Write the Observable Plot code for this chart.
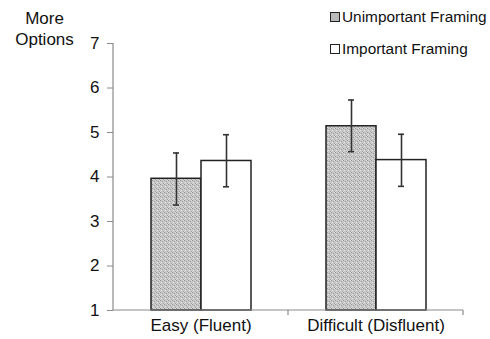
<!DOCTYPE html>
<html>
<head>
<meta charset="utf-8">
<script src="https://cdn.jsdelivr.net/npm/d3@7"></script>
<script src="https://cdn.jsdelivr.net/npm/@observablehq/plot@0.6"></script>
<style>
  html, body { margin: 0; padding: 0; background: #fff; }
  #wrap { position: relative; width: 490px; height: 339px; font-family: "Liberation Sans", Arial, sans-serif; color: #111; }
  #wrap svg { position: absolute; left: 0; top: 0; }
  .ylab { position: absolute; left: 0; top: 8px; width: 89px; text-align: center; font-size: 17px; line-height: 21px; }
  .leg { position: absolute; left: 330px; font-size: 15.4px; display: flex; align-items: center; white-space: nowrap; }
  .sw { width: 8px; height: 8px; border: 1.5px solid #222; margin-right: 2px; box-sizing: content-box; }
</style>
</head>
<body>
<div id="wrap">
  <div class="ylab">More<br>Options</div>
  <div class="leg" style="top:8px"><span class="sw" style="background:#b9b9b9"></span>Unimportant Framing</div>
  <div class="leg" style="top:40px"><span class="sw" style="background:#fff"></span>Important Framing</div>
</div>
<script>
const categories = ["Easy (Fluent)", "Difficult (Disfluent)"];
const series = ["Unimportant Framing", "Important Framing"];
const unimportantMean = [3.96, 5.14];
const unimportantLo = [3.37, 4.57];
const unimportantHi = [4.54, 5.73];
const importantMean = [4.36, 4.38];
const importantLo = [3.78, 3.79];
const importantHi = [4.95, 4.96];
const yTicks = [1, 2, 3, 4, 5, 6, 7];
const baseline = 1;

const data = [];
categories.forEach((c, i) => {
  data.push({category: c, series: series[0], mean: unimportantMean[i], lo: unimportantLo[i], hi: unimportantHi[i]});
  data.push({category: c, series: series[1], mean: importantMean[i], lo: importantLo[i], hi: importantHi[i]});
});

const fills = {[series[0]]: "url(#stipple)", [series[1]]: "#ffffff"};

const plot = Plot.plot({
  width: 490,
  height: 339,
  marginLeft: 113,
  marginRight: 27,
  marginTop: 43,
  marginBottom: 29,
  style: {fontFamily: "Liberation Sans, Arial, sans-serif", fontSize: "17px", color: "#111", background: "#fff"},
  fx: {domain: categories, padding: 0, label: null},
  x: {domain: series, paddingInner: 0, paddingOuter: 0.733, axis: null},
  y: {domain: [1, 7], label: null},
  marks: [
    Plot.axisY({ticks: yTicks, tickFormat: d3.format("d"), tickSize: 6, tickPadding: 8, label: null, stroke: "#8a8a8a", fill: "#111", fontSize: 17}),
    Plot.axisFx({anchor: "bottom", tickSize: 0, tickPadding: 8, label: null, fontSize: 17, fill: "#111"}),
    Plot.barY(data, {fx: "category", x: "series", y1: baseline, y2: "mean", fill: d => fills[d.series], stroke: "#222", strokeWidth: 1.5, inset: 0}),
    Plot.ruleX(data, {fx: "category", x: "series", y1: "lo", y2: "hi", stroke: "#333", strokeWidth: 1.6}),
    Plot.tickY(data, {fx: "category", x: "series", y: "hi", stroke: "#333", strokeWidth: 1.6, insetLeft: 22, insetRight: 22}),
    Plot.tickY(data, {fx: "category", x: "series", y: "lo", stroke: "#333", strokeWidth: 1.6, insetLeft: 22, insetRight: 22})
  ]
});

const svg = d3.select(plot);
// stipple pattern for the grey bars
const pat = svg.insert("defs", ":first-child").append("pattern")
  .attr("id", "stipple").attr("width", 4).attr("height", 4).attr("patternUnits", "userSpaceOnUse");
pat.append("rect").attr("width", 4).attr("height", 4).attr("fill", "#c6c6c6");
[[0,0,"#969696"],[2,1,"#a2a2a2"],[1,2,"#e2e2e2"],[3,3,"#a6a6a6"],[3,0,"#dcdcdc"],[0,3,"#d8d8d8"]].forEach(([px, py, c]) =>
  pat.append("rect").attr("x", px).attr("y", py).attr("width", 1).attr("height", 1).attr("fill", c));

// axis lines drawn from the scales
const ys = plot.scale("y");
const fxs = plot.scale("fx");
const x0 = fxs.apply(categories[0]);
const x1 = fxs.apply(categories[1]);
const x2 = x1 + fxs.bandwidth;
const yTop = ys.apply(7), yBot = ys.apply(1);
const g = svg.append("g").attr("stroke", "#8a8a8a").attr("stroke-width", 1.2);
g.append("line").attr("x1", x0).attr("x2", x0).attr("y1", yTop).attr("y2", yBot);
g.append("line").attr("x1", x0).attr("x2", x2).attr("y1", yBot).attr("y2", yBot);
[x1, x2].forEach(x => g.append("line").attr("x1", x).attr("x2", x).attr("y1", yBot).attr("y2", yBot + 5));

document.getElementById("wrap").prepend(plot);
</script>
</body>
</html>
